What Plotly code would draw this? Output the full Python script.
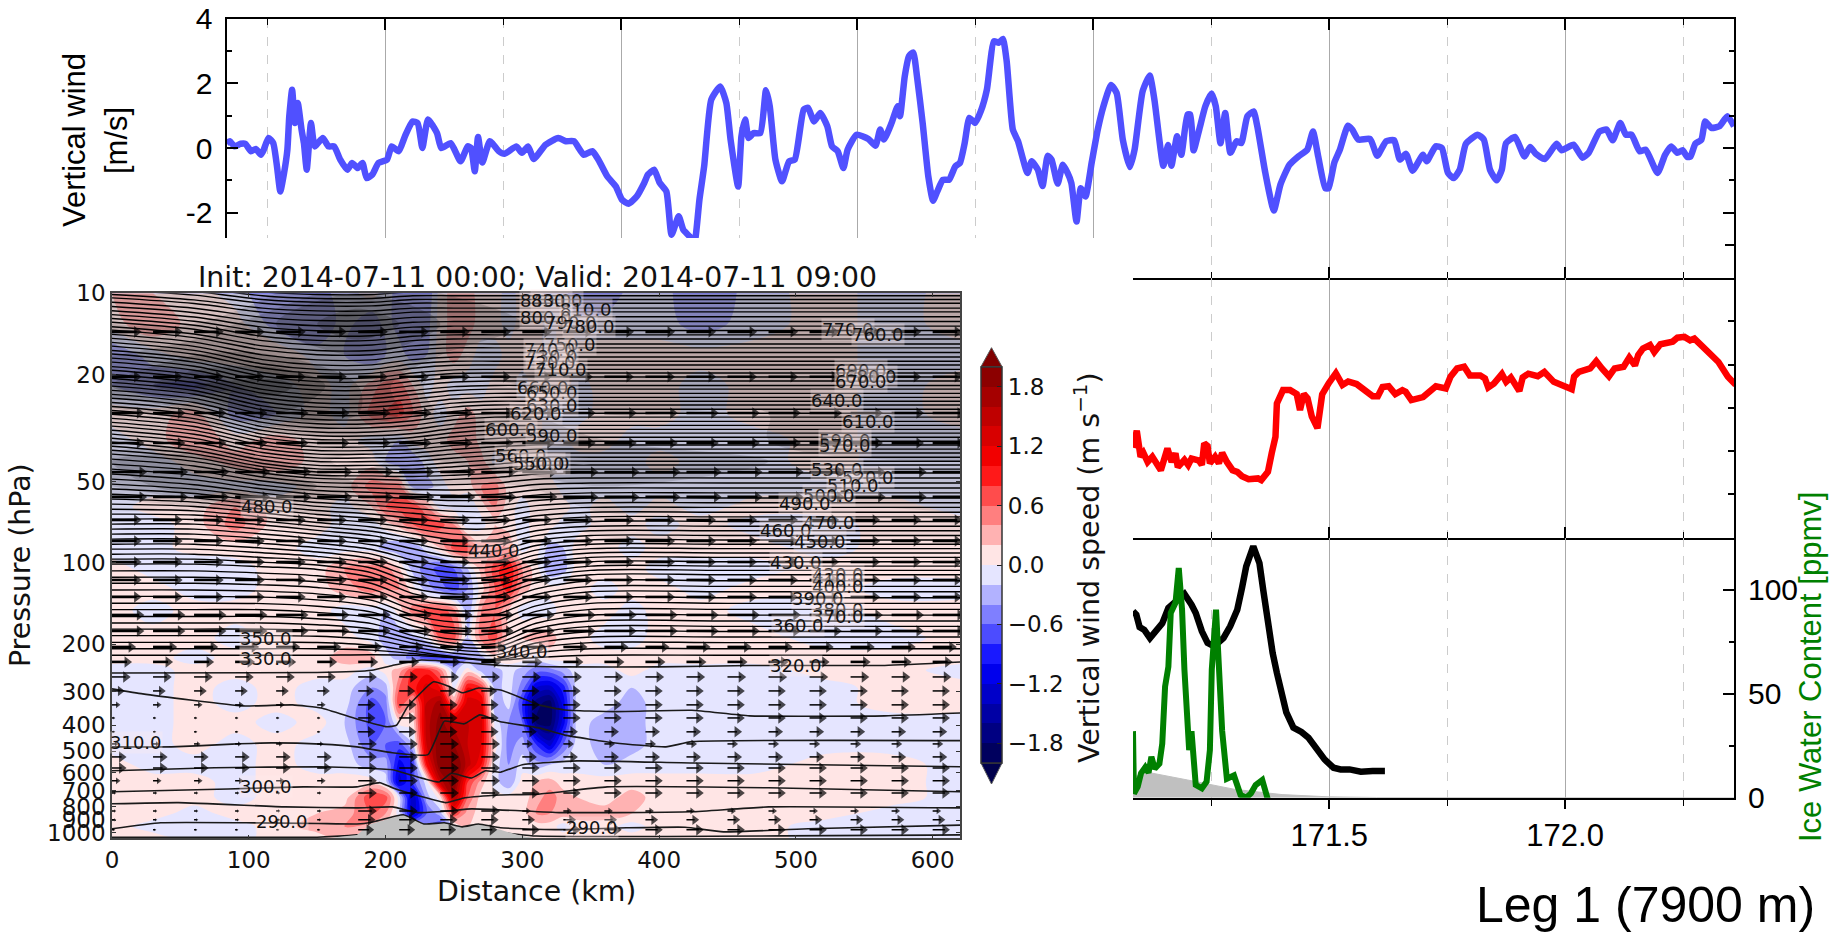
import math
import numpy as np
import plotly.graph_objects as go

W, H = 1839, 932

# ---------- top panel: vertical wind ----------
wind_lon = [169.164,169.171,169.181,169.194,169.204,169.216,169.226,169.237,169.243,169.253,169.263,169.271,169.278,169.286,169.293,169.297,169.303,169.309,169.315,169.323,169.328,169.334,169.343,169.351,169.368,169.380,169.392,169.405,169.420,169.430,169.442,169.452,169.461,169.473,169.486,169.504,169.514,169.529,169.542,169.558,169.569,169.579,169.591,169.610,169.619,169.639,169.660,169.675,169.682,169.690,169.697,169.706,169.722,169.741,169.753,169.778,169.790,169.803,169.815,169.840,169.867,169.883,169.900,169.921,169.939,169.952,169.971,169.989,170.002,170.016,170.033,170.049,170.057,170.070,170.082,170.096,170.107,170.122,170.132,170.145,170.155,170.166,170.176,170.191,170.210,170.223,170.232,170.248,170.255,170.263,170.270,170.281,170.295,170.307,170.315,170.327,170.341,170.356,170.368,170.387,170.396,170.409,170.422,170.437,170.447,170.459,170.471,170.480,170.499,170.524,170.539,170.549,170.557,170.573,170.586,
170.591,170.601,170.610,170.619,170.627,170.639,170.651,170.661,170.670,170.682,170.695,170.708,170.718,170.728,170.738,170.750,170.762,170.775,170.790,170.800,170.809,170.817,170.830,170.841,170.861,170.870,170.883,170.893,170.904,170.912,170.925,170.936,170.946,170.954,170.965,170.974,170.984,170.997,171.010,171.022,171.038,171.050,171.063,171.078,171.088,171.105,171.120,171.130,171.149,171.159,171.166,171.178,171.187,171.200,171.206,171.213,171.225,171.238,171.251,171.260,171.270,171.280,171.291,171.304,171.314,171.327,171.340,171.348,171.365,171.383,171.397,171.416,171.435,171.454,171.466,171.477,171.492,171.499,171.511,171.523,171.540,171.549,171.562,171.587,171.602,171.621,171.638,171.650,171.663,171.677,171.699,171.707,171.726,171.739,171.752,171.764,171.777,171.790,171.815,171.828,171.841,171.855,171.866,171.875,171.894,171.914,171.926,171.938,171.957,171.982,171.993,172.018,172.037,172.050,172.073,172.088,172.101,172.117,172.129,172.141,172.158,172.171,172.196,172.212,172.225,172.238,172.249,172.259,172.266,172.276,172.289,172.297,172.310,172.327,172.344,172.358]
wind_ms = [.15,.21,.05,.13,.13,-.10,-.03,-.21,-.05,.31,.15,-.57,-1.34,-.77,-.05,.98,1.80,.77,1.39,.57,.15,-.67,.77,.05,.31,.05,.05,-.36,-.67,-.46,-.62,-.46,-.93,-.82,-.46,-.36,.05,-.10,.36,.82,.77,0,.88,.46,0,.15,-.41,.05,0,-.72,.34,-.45,.21,-.10,-.18,.05,-.15,.05,-.34,.10,.31,.21,.21,-.21,-.10,-.36,-.88,-1.19,-1.60,-1.72,-1.50,-1.08,-.82,-.67,-1.08,-1.34,-2.68,-2.11,-2.53,-2.73,-2.95,-1.60,-.57,1.49,1.90,1.39,.26,-1.19,.36,.88,.31,.46,.46,1.78,1.29,-.36,-1.03,-.41,-.36,1.19,1.24,.82,1.08,.67,.05,-.10,-.62,-.05,.41,.28,.07,.57,.26,.77,1.29,
.98,2.21,2.84,2.95,2.21,.77,-.88,-1.63,-1.34,-.98,-.98,-.57,-.46,.15,.93,.77,1.13,1.80,3.30,3.25,3.37,2.68,.57,.21,-.77,-.41,-.67,-1.17,-.24,-.36,-1.10,-.52,-.77,-1.08,-2.27,-1.24,-1.50,-.46,.57,1.29,1.95,1.70,.26,-.59,-.05,1.75,2.24,1.49,-.55,.09,-.55,.36,-.21,1.03,1.03,-.07,.57,1.29,1.68,1.29,.15,1.08,-.15,.21,.15,.98,1.13,.67,-.77,-1.93,-1.13,-.52,-.26,-.05,.51,-.26,-1.24,-1.24,-.46,-.05,.69,.57,.26,.28,-.24,.21,.24,-.36,-.18,-.70,-.21,-.41,.05,0,-.77,-.93,-.67,.13,.41,.26,-.67,-1.00,-.67,.15,.34,-.26,.03,-.18,-.34,.13,-.07,.10,-.30,-.15,.51,.57,.24,.77,.41,.41,-.10,-.05,-.77,-.21,.05,-.15,-.07,-.28,-.26,.13,.26,.82,.62,.67,.98,.67]

# ---------- middle right panel: red trace (axis has no labels, relative units) ----------
red_lon = [171.084,171.092,171.100,171.106,171.115,171.125,171.143,171.157,171.166,171.174,171.179,171.193,171.201,171.208,171.224,171.230,171.235,171.242,171.247,171.258,171.266,171.273,171.283,171.295,171.305,171.315,171.329,171.349,171.356,171.370,171.378,171.386,171.389,171.402,171.417,171.431,171.438,171.446,171.454,171.463,171.475,171.485,171.499,171.514,171.528,171.540,171.558,171.577,171.592,171.603,171.613,171.626,171.640,171.655,171.662,171.674,171.699,171.726,171.747,171.757,171.771,171.786,171.798,171.820,171.830,171.837,171.849,171.866,171.875,171.885,171.903,171.910,171.922,171.942,171.956,171.976,171.995,172.014,172.019,172.029,172.053,172.066,172.078,172.093,172.105,172.124,172.136,172.148,172.155,172.165,172.180,172.189,172.202,172.228,172.238,172.253,172.265,172.274,172.291,172.306,172.325,172.345,172.359,172.367]
red_val = [2.08,2.47,1.87,1.96,1.75,1.87,1.56,2.06,1.75,1.95,1.63,1.80,1.68,1.83,1.78,1.68,2.18,2.12,1.72,1.87,1.72,1.96,1.75,1.56,1.52,1.42,1.35,1.37,1.33,1.52,1.95,2.33,3.10,3.41,3.41,3.32,2.95,3.32,3.22,2.80,2.53,3.31,3.57,3.80,3.53,3.61,3.55,3.41,3.27,3.27,3.48,3.50,3.32,3.41,3.37,3.18,3.25,3.50,3.45,3.72,3.91,3.95,3.75,3.75,3.68,3.47,3.56,3.78,3.60,3.70,3.39,3.70,3.79,3.73,3.83,3.60,3.52,3.43,3.72,3.83,3.91,4.08,3.91,3.73,3.91,3.95,4.16,3.98,4.22,4.37,4.45,4.29,4.47,4.53,4.62,4.64,4.56,4.60,4.42,4.25,4.06,3.72,3.56,3.56]

# ---------- lower right panel ----------
black_lon = [171.084,171.091,171.098,171.108,171.120,171.135,171.146,171.159,171.174,171.183,171.193,171.208,171.217,171.230,171.242,171.256,171.276,171.290,171.305,171.315,171.324,171.339,171.352,171.360,171.368,171.380,171.389,171.399,171.409,171.424,171.441,171.456,171.470,171.490,171.509,171.524,171.543,171.567,171.592,171.618]
black_val = [89.6,88,82,80.7,76.7,81,83.8,91.2,94.4,96,98,92.8,88.8,80,74.4,72.8,76.8,82.4,90.4,100.8,111.2,120.8,112.8,100,85.6,69.6,60,49,41,33.7,31.6,28.8,24,18.4,14.4,13.6,13.6,12.5,12.8,12.8]
iwc_lon = [171.084,171.086,171.094,171.101,171.110,171.117,171.123,171.130,171.140,171.146,171.152,171.159,171.164,171.174,171.181,171.188,171.193,171.201,171.203,171.208,171.211,171.217,171.230,171.240,171.247,171.251,171.260,171.266,171.273,171.283,171.298,171.312,171.324,171.334,171.344,171.358,171.370]
iwc_ppmv = [32,2,5.3,11.7,14.6,12,19.7,14,16.4,26,53.4,63,88.8,93.6,110.4,90.4,61.6,32.6,22.9,32,22.9,6.1,4.5,7.7,22.9,61.6,90.4,64.2,32.1,9.1,10.7,1.3,0,2.1,6.1,8.5,-1]
ground_lon = [171.084,171.10,171.12,171.20,171.30,171.40,171.50,171.60,172.358]
ground_val = [10,11,12,8.5,4,1.5,.4,.1,0]

# ---------- cross-section: vertical wind (m/s x 10) ----------
w_km = [0,30,60,90,120,150,170,190,200,210,220,230,240,250,260,270,280,290,300,310,320,330,340,360,380,400,430,470,520,570,620]
w_hpa = [10,13,17,22,28,35,42,52,62,72,88,105,125,150,190,225,250,290,330,390,470,560,650,740,850,950,1050]
w_tenths = [
[2,2,1,-1,-4,-3,-1,1,-1,-3,-4,-4,1,3,3,1,1,-1,1,1,-1,-1,-4,-4,-1,-1,-4,-1,1,-1,1],
[1,4,1,1,-3,-4,-1,-4,-1,-3,-4,-3,1,3,3,1,1,-1,1,1,-1,1,-1,-1,-1,-1,-3,-1,1,-1,1],
[-4,-1,1,1,2,-1,-2,-4,-2,-1,-3,-2,1,3,1,-1,-1,1,1,1,-1,1,1,1,1,1,1,1,1,-1,-1],
[-2,-4,-5,-2,-1,1,-1,3,5,5,2,-1,1,-1,-1,-1,1,1,-1,1,1,1,-1,1,1,1,-1,1,1,-1,1],
[1,1,3,-3,-2,1,-1,5,6,7,4,1,-1,1,3,1,1,1,1,1,-1,-1,-1,1,1,1,-1,1,1,-1,1],
[-1,1,4,1,3,1,1,-1,-1,-2,1,1,1,3,4,1,1,1,1,1,-1,-1,1,1,-1,-1,-1,-1,1,-1,-1],
[-1,-1,1,3,4,1,1,1,-2,-4,-4,-1,1,1,2,3,-1,1,1,1,-1,-1,-1,-1,-1,1,-1,-1,1,-1,-1],
[-1,-1,-1,-1,-1,1,1,5,5,5,-3,-3,-1,1,1,4,5,1,1,1,1,-1,-1,-1,-1,-1,-1,-1,-1,-1,-1],
[-1,1,1,4,1,1,-1,2,6,7,8,4,-1,-1,-2,1,4,1,-1,1,1,1,-1,1,-1,1,-1,1,1,1,-1],
[-1,-1,1,5,1,1,-1,-1,1,3,6,8,7,4,-2,-1,2,1,-1,1,1,-1,-1,1,1,-1,1,-1,-1,1,1],
[-1,-1,1,1,1,-1,-1,-1,-3,-4,-4,-1,2,7,8,3,4,4,-1,1,-3,-2,1,1,-1,1,1,1,-1,1,1],
[1,-1,-2,-1,1,1,4,5,5,2,-3,-5,-7,-6,-2,3,7,10,4,1,-4,-3,1,1,1,-1,-1,-1,1,1,1],
[1,1,-1,-1,1,1,3,5,4,4,1,-3,-5,-7,-4,1,6,9,3,1,1,1,1,-1,1,1,-1,1,1,-1,-1],
[1,-1,1,1,1,1,-1,-1,-2,1,5,7,7,5,-4,4,6,2,-1,-1,-1,1,1,1,-1,1,1,-1,-1,1,1],
[1,1,1,-1,1,1,1,-1,-3,-4,-3,-1,6,7,-2,5,7,1,2,3,3,1,1,-1,-1,1,1,1,-1,-1,1],
[1,1,-1,1,1,1,3,3,-1,-3,-5,-7,-8,-6,-4,-3,1,1,1,-1,1,1,1,1,1,1,1,1,1,1,1],
[-1,-1,1,1,1,1,1,-1,1,3,8,9,5,-3,1,-3,-3,-1,-3,-5,-5,-3,-1,-1,1,-1,-1,-1,1,1,-1],
[-1,-1,1,-1,1,-1,-1,-4,-3,6,9,13,10,-1,10,8,-3,-1,-5,-12,-13,-9,-1,-2,-2,-1,-1,-1,-1,1,1],
[-1,-1,1,-1,1,-1,-1,-7,-5,8,3,14,17,4,13,12,-4,-1,-8,-17,-19,-11,-1,-1,-3,-1,-1,-1,-1,1,1],
[-1,-1,1,1,-1,1,-2,-7,-6,1,1,15,19,15,14,13,-1,-4,-6,-18,-19,-11,-1,-3,-3,-1,-1,-1,-1,-1,-1],
[-1,-1,1,-1,1,-1,-1,-6,-6,-7,-2,14,20,18,14,12,1,-5,-3,-8,-13,-6,-1,-3,-3,-1,-1,-1,-1,-1,-1],
[1,-1,-1,-1,1,-1,-1,-3,-3,-11,-8,10,20,21,15,10,-1,-4,-1,-3,-2,-1,-1,-2,-1,-1,-1,-1,1,1,-1],
[1,1,1,-1,1,1,1,1,-1,-13,-7,-1,15,20,8,3,-1,-4,1,2,3,1,1,1,1,1,1,1,1,1,-1],
[1,1,1,-1,1,1,1,8,7,-1,-14,-3,1,17,6,1,1,1,1,3,5,3,2,1,3,1,1,1,1,1,-1],
[1,1,-1,1,1,2,3,6,4,-1,-13,-6,-3,8,3,1,1,1,1,4,4,3,3,3,2,1,1,1,1,-1,-1],
[1,-1,-1,-1,1,3,4,3,1,1,-2,-6,-8,-1,2,1,1,1,1,1,1,-1,1,1,-1,1,1,1,-1,-1,-1],
[1,1,-1,-1,1,1,3,3,1,1,1,-1,-1,1,1,1,1,1,1,1,1,1,1,1,1,1,1,1,-1,-1,-1],
]
w_levels_start, w_levels_end, w_levels_size = -2.0, 2.0, 0.2

# darkening where the stratospheric isentropes crowd together
haze_km = [0,60,120,180,240,300,360,480,620]
haze_hpa = [10,13,17,22,28,35,42,52,65,80,100]
haze = [
[.3,.3,.3,.5,.4,.4,.35,.3,.3],
[.3,.3,.5,.7,.5,.4,.4,.35,.35],
[.4,.5,.5,.5,.4,.35,.4,.4,.4],
[.5,.7,.75,.5,.25,.3,.35,.35,.35],
[.25,.35,.6,.5,.3,.3,.3,.3,.35],
[.2,.2,.2,.3,.4,.4,.3,.3,.35],
[.4,.5,.3,.15,.3,.4,.35,.3,.3],
[.3,.5,.5,.3,.2,.2,.3,.3,.3],
[.1,.1,.2,.2,.1,.1,.2,.15,.2],
[0,0,0,.1,.1,0,.1,.1,.1],
[0,0,0,0,0,0,0,0,0],
]

# crowded isentropes above the tropopause: base pressure and displacement (decades of pressure)
stack_hpa = [220,208,197,186,176,167,158,149,141,133,126,119,113,107,101,96.8,92.8,88.9,85.2,81.6,78.2,74.9,71.8,68.8,65.9,63.2,60.5,58,55.6,53.2,51,48.9,46.8,44.9,43,41.2,39.5,38.2,36.9,35.7,34.5,33.3,32.2,31.1,30.1,29.1,28.1,27.2,26.3,25.4,24.5,23.7,22.9,22.1,21.4,20.7,20,19.3,18.7,18,17.4,16.8,16.3,15.7,15.2,14.7,14.2,13.7,13.3,12.8,12.4,12,11.6,11.2,10.8,10.4,10.1,9.7,9.4,9.1,8.8,8.5,8.2,7.9]
disp_km = [0,60,110,150,190,220,250,280,310,350,450,620]
disp_hpa = [10,15,25,35,50,70,100,150,200,235]
disp = [
[0,.02,.05,.06,.06,.05,.05,.05,.05,.05,.05,.05],
[0,.03,.08,.10,.10,.08,.07,.07,.07,.07,.07,.07],
[0,.03,.09,.11,.11,.10,.08,.07,.07,.07,.07,.07],
[0,.03,.08,.10,.10,.10,.09,.08,.07,.07,.07,.07],
[0,.02,.05,.07,.08,.09,.10,.10,.08,.07,.07,.07],
[0,0,.02,.04,.06,.09,.12,.12,.08,.06,.06,.06],
[0,0,.01,.02,.05,.11,.13,.12,.07,.04,.04,.04],
[0,0,0,.01,.03,.08,.11,.11,.05,.02,.02,.02],
[0,0,0,0,.01,.03,.05,.06,.02,0,0,0],
[0,0,0,0,-.01,-.02,-.02,-.01,0,0,0,0],
]

# isentropes of the troposphere (km, hPa)
theta_a_km = [0,150,190,205,226,258,284,331,400,466,565,621]
theta_a_hpa = [256,255,250,240,229,234,240,243,243,240,240,233]
theta_b_km = [0,22.5,95.6,132,153,179,201,208,216,235,247,256,268,284,299,312,331,368,424,466,565,621]
theta_b_hpa = [293,306,339,336,345,379,405,400,342,276,288,303,291,296,316,336,351,356,352,369,369,360]
theta_c_km = [0,43.4,87.8,116.5,153,179,205,231,243,257.5,269,284,312,331,368,405,424,621]
theta_c_hpa = [481,481,470,465,470,481,506,514,386,395,366,388,409,435,465,481,460,456]
theta_d_km = [0,75,153,179,205,218.4,239,248,263,273,284,300,340,424,621]
theta_d_hpa = [590,575,570,575,585,611,649,603,627,590,597,560,542,552,570]
theta_e_km = [0,85,140,179,196,205,226,244,258,284,312,362,480,621]
theta_e_hpa = [706,689,677,677,653,682,735,774,743,725,720,677,682,706]
theta_f_km = [0,48.6,127,179,205,224,247,263,327,368,424,480,621]
theta_f_hpa = [782,774,803,810,803,843,830,817,843,843,837,803,810]
theta_g_km = [0,35.6,98,150.5,179,190,213,228,243,256,268,284,327,376,419,447,509,621]
theta_g_hpa = [968,920,920,925,929,915,859,929,920,952,929,960,975,960,955,994,968,938]
theta_h_km = [0,150,179,190,284,310,621]
theta_h_hpa = [1040,1040,1020,1000,1000,1030,1020]
terrain_km = [156,179,189,213,228,243,256,268,284,299,310]
terrain_hpa = [1050,1020,929,859,929,920,952,929,977,1028,1050]

# arrows
quiver_km = [0,30,60,90,120,150,180,210,240,270,300,330,360,390,420,450,480,510,540,570,600]
quiver_hpa = [13.9,20.4,27.8,35.9,46,56.9,69.3,82.9,99.2,115.6,133.7,155.9,178.7,204.9,232.8,264.7,298.3,336,375.7,423,469,524,575.7,643,713,831,897,977]
quiver_west = [18,18,20,20,22,22,18,18,18,18,18,20,20,14,11,10,6,4,1.5,1.5,3,7,7,4,2,2,2,1.5]
quiver_mid = [18,18,20,20,22,22,18,18,18,18,18,20,20,14,11,10,8,9,9,9,10,10,10,10,10,10,9,8]
quiver_east = [18,18,20,20,22,22,18,18,18,18,18,20,20,14,11,10,9,9,9,7,5,7,9,9,9,4,6,9]

# isentrope labels
label_text = ["840.0","830.0","810.0","800.0","790.0","780.0","770.0","760.0","750.0","740.0","730.0","720.0","710.0","690.0","680.0","670.0","660.0","650.0","640.0","630.0","620.0","610.0","600.0","590.0","590.0","570.0","560.0","540.0","550.0","530.0","520.0","510.0","500.0","490.0","480.0","470.0","460.0","450.0","440.0","430.0","420.0","410.0","400.0","390.0","380.0","370.0","360.0","350.0","340.0","330.0","320.0","310.0","300.0","290.0","290.0"]
label_km = [317,325,346.5,317,335.5,349,538,560,335,320,322,320,328,547.5,555,547.5,315,322,530,322,310,553,292,322,536,536,299,316,312,530,553,542,524,507,113,524,493,518,279,500,531,531,531,516,531,531,501.5,112.5,300,112.5,500,17.5,112.5,124,351]
label_hpa = [10.6,10.6,11.5,12.3,12.8,13.3,13.6,14.2,15.5,16.2,17.2,18.1,19.1,19.4,20.3,21.3,22.3,23.4,24.9,26,27.8,30,32.1,33.8,35,36.8,39.8,42.6,42.6,45.2,48.4,51.8,56,60.4,62,70.5,76.1,83.6,90.3,99.2,109.9,115.6,122.7,134.9,149.4,158.6,171.2,191.3,213.8,227,241,465,677,913,961]

pressure_ticks = [10,20,50,100,200,300,400,500,600,700,800,900,1000]
colorbar_ticks = [-1.8,-1.2,-0.6,0.0,0.6,1.2,1.8]

# ---------- helpers ----------
def xd(a, b): return [a / W, b / W]
def yd(top, bottom): return [1 - bottom / H, 1 - top / H]

def seismic(t):
    if t < .25: return (0, 0, .3 + .7 * t / .25)
    if t < .5:
        f = (t - .25) / .25
        return (f, f, 1)
    if t < .75:
        f = (t - .5) / .25
        return (1, 1 - f, 1 - f)
    return (1 - .5 * (t - .75) / .25, 0, 0)

n_bands = 20
scale = []
for i in range(n_bands):
    r, g, b = seismic((i + .5) / n_bands)
    c = f"rgb({int(r*255)},{int(g*255)},{int(b*255)})"
    scale.append([i / n_bands, c])
    scale.append([(i + 1) / n_bands, c])

fig = go.Figure()
SANS = "Liberation Sans"
DV = "DejaVu Sans"

fig.add_trace(go.Scatter(x=wind_lon, y=wind_ms, mode="lines", line=dict(color="#5050ff", width=6.5, shape="spline", smoothing=.5), xaxis="x", yaxis="y", hoverinfo="skip"))
fig.add_trace(go.Scatter(x=[172.0], y=[-3.5], mode="lines", xaxis="x2", yaxis="y2", hoverinfo="skip"))
fig.add_trace(go.Scatter(x=red_lon, y=red_val, mode="lines", line=dict(color="#ff0000", width=6.5), xaxis="x3", yaxis="y3", cliponaxis=False, hoverinfo="skip"))
fig.add_trace(go.Scatter(x=ground_lon, y=ground_val, mode="lines", fill="tozeroy", fillcolor="#c0c0c0", line=dict(color="#c0c0c0", width=1), xaxis="x4", yaxis="y4", hoverinfo="skip"))
fig.add_trace(go.Scatter(x=black_lon, y=black_val, mode="lines", line=dict(color="#000000", width=6.5), xaxis="x4", yaxis="y4", hoverinfo="skip"))
fig.add_trace(go.Scatter(x=iwc_lon, y=iwc_ppmv, mode="lines", line=dict(color="#008000", width=6), xaxis="x4", yaxis="y4", cliponaxis=False, hoverinfo="skip"))

w_values = (np.array(w_tenths, dtype=float) / 10).tolist()
fig.add_trace(go.Contour(
    x=w_km, y=w_hpa, z=w_values, xaxis="x5", yaxis="y5",
    contours=dict(coloring="fill", start=w_levels_start, end=w_levels_end, size=w_levels_size, showlines=False),
    line=dict(width=0), colorscale=scale, zmin=-2, zmax=2, hoverinfo="skip", zauto=False,
    colorbar=dict(x=981 / W, xanchor="left", y=1 - 763 / H, yanchor="bottom", len=396.3, lenmode="pixels",
                  thickness=21, thicknessmode="pixels", xpad=0, ypad=0, outlinecolor="#333", outlinewidth=1.5,
                  tickmode="array", tickvals=colorbar_ticks, ticktext=["\u22121.8", "\u22121.2", "\u22120.6", "0.0", "0.6", "1.2", "1.8"],
                  ticks="inside", ticklen=5, tickcolor="#222", tickfont=dict(family=DV, size=23, color="#111"))))
fig.add_trace(go.Contour(
    x=haze_km, y=haze_hpa, z=haze, xaxis="x5", yaxis="y5", showscale=False, hoverinfo="skip",
    contours=dict(coloring="fill", start=0, end=1, size=.1, showlines=False), line=dict(width=0),
    colorscale=[[0, "rgba(30,30,30,0)"], [1, "rgba(30,30,30,0.42)"]], zmin=0, zmax=1))

lp_levels = np.log10(disp_hpa)
disp_arr = np.array(disp)
for base in stack_hpa:
    offs = [float(np.interp(math.log10(base), lp_levels, disp_arr[:, k])) for k in range(len(disp_km))]
    fig.add_trace(go.Scatter(x=disp_km, y=[base * 10 ** o for o in offs], mode="lines",
                             line=dict(color="#000000", width=1.4, shape="spline", smoothing=.9),
                             xaxis="x5", yaxis="y5", hoverinfo="skip"))
sp = dict(color="#1a1a1a", width=1.6, shape="spline", smoothing=.4)
for xs, ys in [(theta_a_km, theta_a_hpa), (theta_b_km, theta_b_hpa), (theta_c_km, theta_c_hpa), (theta_d_km, theta_d_hpa),
               (theta_e_km, theta_e_hpa), (theta_f_km, theta_f_hpa), (theta_h_km, theta_h_hpa)]:
    fig.add_trace(go.Scatter(x=xs, y=ys, mode="lines", line=sp, xaxis="x5", yaxis="y5", hoverinfo="skip"))
fig.add_trace(go.Scatter(x=terrain_km, y=terrain_hpa, mode="lines", fill="toself", fillcolor="#c0c0c0", line=dict(color="#c0c0c0", width=0), xaxis="x5", yaxis="y5", hoverinfo="skip"))
fig.add_trace(go.Scatter(x=theta_g_km, y=theta_g_hpa, mode="lines", line=sp, xaxis="x5", yaxis="y5", hoverinfo="skip"))

upper_x, upper_y, lower_x, lower_y, hx, hy, hs = [], [], [], [], [], [], []
for p, uw, um, ue in zip(quiver_hpa, quiver_west, quiver_mid, quiver_east):
    for k in quiver_km:
        u = uw if k < 180 else (um if k < 300 else ue)
        if p < 250:
            upper_x += [k, k + u, None]
            upper_y += [p, p, None]
        else:
            lower_x += [k, k + u, None]
            lower_y += [p, p, None]
        hx.append(k + u)
        hy.append(p)
        hs.append(min(10.0, max(2.5, u * 1.5)))
fig.add_trace(go.Scatter(x=upper_x, y=upper_y, mode="lines", line=dict(color="#000", width=2.6), xaxis="x5", yaxis="y5", hoverinfo="skip"))
fig.add_trace(go.Scatter(x=lower_x, y=lower_y, mode="lines", line=dict(color="#000", width=1.5), xaxis="x5", yaxis="y5", hoverinfo="skip"))
fig.add_trace(go.Scatter(x=hx, y=hy, mode="markers", marker=dict(symbol="triangle-right", size=hs, color="#000", line=dict(width=0)), xaxis="x5", yaxis="y5", hoverinfo="skip"))

line = dict(showline=True, linecolor="#000", linewidth=2)
def lon_axis(dom, rng, side="bottom", ticks="inside", labels=False, anchor="y", mirror=False, grid=True):
    return dict(domain=dom, range=rng, side=side, anchor=anchor, mirror=mirror, ticks=ticks, tick0=169.5, dtick=.5, tickcolor="#000",
                ticklen=11 if ticks == "inside" else 9, tickwidth=1.5, showticklabels=labels, tickformat=".1f",
                tickfont=dict(family=SANS, size=31, color="#000"), showgrid=grid, gridcolor="#aaaaaa", gridwidth=1, zeroline=False,
                minor=dict(tick0=169.25, dtick=.25, ticks=ticks, ticklen=6, tickcolor="#000", tickwidth=1.2, showgrid=grid, gridcolor="#cccccc", griddash="dash", gridwidth=1),
                **line)

lay = dict(width=W, height=H, margin=dict(l=0, r=0, t=0, b=0, autoexpand=False), paper_bgcolor="#fff", plot_bgcolor="rgba(0,0,0,0)", showlegend=False)
lay["xaxis"] = lon_axis(xd(226.5, 1734), [169.164, 172.358], side="top", anchor="y")
lay["yaxis"] = dict(domain=yd(18.5, 238), range=[-2.78, 4], anchor="x", side="left", tickmode="array", tickvals=[-2, 0, 2, 4], ticktext=["-2", "0", "2", "4"],
                    ticks="inside", ticklen=11, tickwidth=1.5, tickcolor="#000", mirror="ticks", showgrid=False, zeroline=False,
                    minor=dict(tickmode="array", tickvals=[-1, 1, 3], ticks="inside", ticklen=5, tickcolor="#000", tickwidth=1.5),
                    tickfont=dict(family=SANS, size=30, color="#000"), ticklabelstandoff=6, **line)
rng2 = [171.084, 172.358]
lay["xaxis2"] = lon_axis(xd(1133, 1734), rng2, anchor="y2")
lay["yaxis2"] = dict(domain=yd(238, 278), range=[-4, -2.78], anchor="x2", side="right", tickmode="array", tickvals=[-4, -3], ticks="inside", ticklen=9, tickwidth=1.5,
                     tickcolor="#000", showticklabels=False, showgrid=False, zeroline=False, **line)
lay["xaxis3"] = lon_axis(xd(1133, 1734), rng2, anchor="y3")
lay["yaxis3"] = dict(domain=yd(278, 537.7), range=[0, 6], anchor="x3", side="right", tickmode="array", tickvals=[0, 1, 2, 3, 4, 5, 6], ticks="inside", ticklen=6, tickwidth=1.5,
                     tickcolor="#000", showticklabels=False, showgrid=False, zeroline=False, **line)
lay["xaxis4"] = lon_axis(xd(1133, 1734), rng2, ticks="outside", labels=True, anchor="y4")
lay["yaxis4"] = dict(domain=yd(537.7, 797.7), range=[0, 125], anchor="x4", side="right", tickmode="array", tickvals=[0, 50, 100], ticks="inside", ticklen=11, tickwidth=1.5,
                     tickcolor="#000", minor=dict(tickmode="array", tickvals=[25, 75], ticks="inside", ticklen=5, tickcolor="#000", tickwidth=1.5),
                     tickfont=dict(family=SANS, size=30, color="#000"), ticklabelstandoff=6, showgrid=False, zeroline=False, **line)
frame = dict(showline=True, linecolor="#444", linewidth=1.5, mirror="ticks", showgrid=False, zeroline=False, ticks="inside", ticklen=4, tickwidth=1, tickcolor="#333")
lay["xaxis5"] = dict(domain=xd(112, 960), range=[0, 620], anchor="y5", tickmode="array", tickvals=[0, 100, 200, 300, 400, 500, 600],
                     tickfont=dict(family=DV, size=23, color="#111"), **frame)
lay["yaxis5"] = dict(domain=yd(293.3, 838.3), type="log", range=[math.log10(1050), 1], anchor="x5", tickmode="array", tickvals=pressure_ticks,
                     ticktext=[str(v) for v in pressure_ticks], tickfont=dict(family=DV, size=23, color="#111"), **frame)

def note(text, x, y, size, family=DV, color="#111", angle=0, xanchor="center", yanchor="middle"):
    return dict(text=text, x=x / W, y=1 - y / H, xref="paper", yref="paper", showarrow=False, font=dict(family=family, size=size, color=color),
                textangle=angle, xanchor=xanchor, yanchor=yanchor)

ann = [
    note("Vertical wind", 74, 140, 31, SANS, "#000", -90),
    note("[m/s]", 116, 140, 31, SANS, "#000", -90),
    note("Ice Water Content [ppmv]", 1810, 667, 31, SANS, "#008000", -90),
    note("Leg 1 (7900 m)", 1645, 905, 50, SANS, "#000"),
    note("Init: 2014-07-11 00:00; Valid: 2014-07-11 09:00", 537, 277, 28.3),
    note("Pressure (hPa)", 20, 565, 28.4, DV, "#111", -90),
    note("Distance (km)", 536, 891, 28.4),
    note("Vertical wind speed (m s<sup>\u22121</sup>)", 1087, 568, 28.5, DV, "#111", -90),
]
for t, k, p in zip(label_text, label_km, label_hpa):
    ann.append(dict(text=t, x=k, y=math.log10(p), xref="x5", yref="y5", showarrow=False, font=dict(family=DV, size=18, color="#111"),
                    bgcolor="rgba(255,236,236,0.3)", borderpad=0))
lay["annotations"] = ann
lay["shapes"] = [
    dict(type="path", xref="paper", yref="paper", path=f"M {981/W} {1-366.7/H} L {991.5/W} {1-347.7/H} L {1002/W} {1-366.7/H} Z", fillcolor="#7f0000", line=dict(color="#555", width=1)),
    dict(type="path", xref="paper", yref="paper", path=f"M {981/W} {1-763/H} L {991.5/W} {1-784/H} L {1002/W} {1-763/H} Z", fillcolor="#00004c", line=dict(color="#555", width=1)),
]
fig.update_layout(**lay)
fig.write_html("out.html", post_script="document.body.style.margin='0';", config=dict(displayModeBar=False))
